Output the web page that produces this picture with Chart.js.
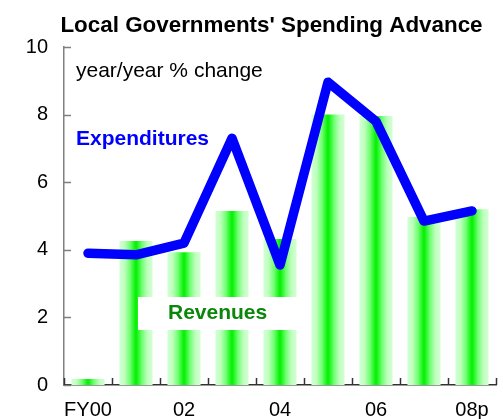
<!DOCTYPE html>
<html><head><meta charset="utf-8">
<script src="https://cdn.jsdelivr.net/npm/chart.js@4"></script>
<style>html,body{margin:0;padding:0;background:#fff;overflow:hidden}</style>
</head><body>
<canvas id="c" width="503" height="419" style="width:503px;height:419px;display:block"></canvas>
<script>
const categories = ['FY00','01','02','03','04','05','06','07','08p'];
const tickLabels = ['FY00','','02','','04','','06','','08p'];
const revenues = [0.18, 4.26, 3.93, 5.15, 4.32, 8.0, 7.96, 4.97, 5.2];
const expenditures = [3.9, 3.85, 4.2, 7.3, 3.55, 8.96, 7.8, 4.85, 5.15];
const yTickValues = [0, 2, 4, 6, 8, 10];

const FONT = "'Liberation Sans', Arial, sans-serif";

function barGradient(ctx) {
  const chart = ctx.chart;
  const xs = chart.scales && chart.scales.x;
  if (!xs || ctx.dataIndex === undefined) return '#00ff00';
  const cx = xs.getPixelForValue(ctx.dataIndex);
  const cw = (xs.right - xs.left) / categories.length;
  const w = cw * 0.69;
  if (!isFinite(cx) || !isFinite(w) || w <= 0) return '#00ff00';
  const g = chart.ctx.createLinearGradient(cx - w / 2, 0, cx + w / 2, 0);
  g.addColorStop(0, '#d2ffd2');
  g.addColorStop(0.15, '#c0ffc0');
  g.addColorStop(0.32, '#70ff70');
  g.addColorStop(0.5, '#00f000');
  g.addColorStop(0.68, '#70ff70');
  g.addColorStop(0.85, '#c0ffc0');
  g.addColorStop(1, '#d2ffd2');
  return g;
}

const decor = {
  id: 'decor',
  afterDatasetsDraw(chart) {
    const c = chart.ctx;
    c.save();
    c.fillStyle = '#ffffff';
    c.fillRect(138, 297, 168, 33);
    c.restore();
  },
  afterDraw(chart) {
    const c = chart.ctx;
    const xs = chart.scales.x, ys = chart.scales.y;
    c.save();
    c.strokeStyle = '#7f7f7f';
    c.lineWidth = 1.5;
    yTickValues.forEach(v => {
      const y = Math.round(ys.getPixelForValue(v)) + 0.5;
      c.beginPath(); c.moveTo(xs.left, y); c.lineTo(xs.left + 7, y); c.stroke();
    });
    c.strokeStyle = '#333333';
    const cw = (xs.right - xs.left) / categories.length;
    for (let i = 0; i <= categories.length; i++) {
      const x = Math.round(xs.left + i * cw) + 0.5;
      c.beginPath(); c.moveTo(x, ys.bottom); c.lineTo(x, ys.bottom - 7); c.stroke();
    }
    c.textBaseline = 'alphabetic';
    c.fillStyle = '#000';
    c.font = "bold 22.4px " + FONT;
    c.textAlign = 'center';
    c.fillText("Local Governments' Spending Advance", 271.5, 32);
    c.textAlign = 'left';
    c.font = "21px " + FONT;
    c.fillText('year/year % change', 76, 77);
    c.fillStyle = '#0000ff';
    c.font = "bold 21px " + FONT;
    c.fillText('Expenditures', 76, 145);
    c.fillStyle = '#0a870a';
    c.fillText('Revenues', 168, 319);
    c.restore();
  }
};

new Chart(document.getElementById('c'), {
  data: {
    labels: categories,
    datasets: [
      {
        type: 'line',
        label: 'Expenditures',
        data: expenditures,
        borderColor: '#0000ff',
        borderWidth: 9.5,
        borderCapStyle: 'round',
        borderJoinStyle: 'round',
        pointRadius: 0,
        tension: 0,
        fill: false,
        order: 0
      },
      {
        type: 'bar',
        label: 'Revenues',
        data: revenues,
        backgroundColor: barGradient,
        borderWidth: 0,
        categoryPercentage: 1.0,
        barPercentage: 0.69,
        order: 1
      }
    ]
  },
  options: {
    responsive: false,
    animation: false,
    events: [],
    layout: { padding: { top: 47, right: 7, left: 0, bottom: 0 } },
    plugins: { legend: { display: false }, tooltip: { enabled: false }, title: { display: false } },
    scales: {
      x: {
        offset: true,
        grid: { display: false, drawTicks: false },
        border: { display: true, color: '#333333', width: 1.5 },
        ticks: {
          autoSkip: false, maxRotation: 0, padding: 13,
          color: '#000', font: { family: FONT, size: 20 },
          callback: (v, i) => tickLabels[i]
        },
        afterFit: s => { s.height = 34; }
      },
      y: {
        min: 0, max: 10,
        afterBuildTicks: s => { s.ticks = yTickValues.map(v => ({ value: v })); },
        grid: { display: false, drawTicks: false },
        border: { display: true, color: '#7f7f7f', width: 1.5 },
        ticks: { padding: 16, color: '#000', font: { family: FONT, size: 20 } },
        afterFit: s => { s.width = 64; }
      }
    }
  },
  plugins: [decor]
});
</script>
</body></html>
